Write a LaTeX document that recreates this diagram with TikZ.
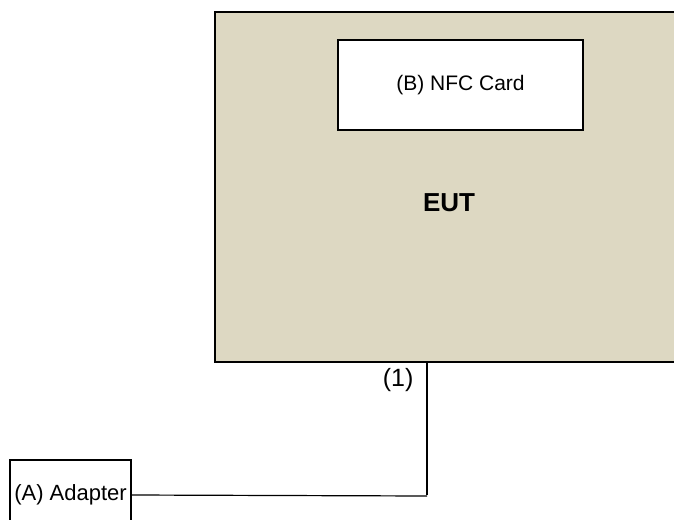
\documentclass[tikz,border=0pt]{standalone}
\usepackage{fontspec}
\setmainfont{Liberation Sans}
\usetikzlibrary{positioning}
\definecolor{eutfill}{RGB}{221,216,194}
\tikzset{
  unitbox/.style={draw, line width=2pt, inner sep=0pt, anchor=north west},
  wire/.style={line width=1.2pt},
  labeltext/.style={font=\fontsize{21}{25}\selectfont},
}
\begin{document}
\begin{tikzpicture}[x=1pt, y=-1pt]
  \clip (0,0) rectangle (674,519);
  % EUT
  \node[unitbox, fill=eutfill, minimum width=470pt, minimum height=350pt] (eut) at (214,11) {};
  \node[font=\fontsize{26}{30}\selectfont\bfseries] (eutlabel) at (449,203) {EUT};
  % NFC card
  \node[unitbox, fill=white, minimum width=245pt, minimum height=90pt, labeltext] (nfc) at (337,39) {(B) NFC Card};
  % Adapter
  \node[unitbox, fill=white, minimum width=121pt, minimum height=70pt, font=\fontsize{22}{26}\selectfont] (adapter) at (9,459) {(A) Adapter};
  % Cable (1)
  \coordinate (port) at (427,495);
  \draw[wire] (eut.south -| port) -- (port);
  \draw[wire] (adapter.east) -- ([yshift=-1pt]port);
  \node[font=\fontsize{25}{29}\selectfont, anchor=east] (cablelabel) at (417,380) {(1)};
\end{tikzpicture}
\end{document}
